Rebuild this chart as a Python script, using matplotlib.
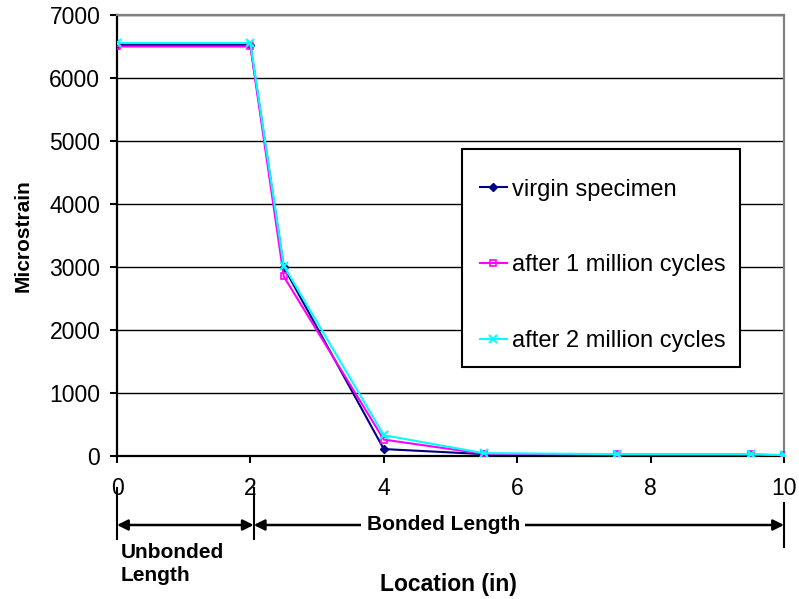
import matplotlib
matplotlib.use("Agg")
import matplotlib.pyplot as plt
import matplotlib.transforms as mtransforms
from matplotlib.patches import Rectangle

plt.rcParams['font.family'] = ['Liberation Sans', 'DejaVu Sans']

location = [0, 2, 2.5, 4, 5.5, 7.5, 9.5, 10]
virgin = [6525, 6525, 3000, 110, 30, 20, 20, 5]
after_1m = [6500, 6500, 2850, 260, 35, 25, 25, 10]
after_2m = [6555, 6555, 3020, 330, 45, 30, 30, 15]
series_labels = ["virgin specimen", "after 1 million cycles", "after 2 million cycles"]
x_ticks = [0, 2, 4, 6, 8, 10]
y_ticks = [0, 1000, 2000, 3000, 4000, 5000, 6000, 7000]

fig = plt.figure(figsize=(7.99, 5.99), dpi=100)
ax = fig.add_axes([117/799, 1-456/599, (784-117)/799, (456-15)/599])

ax.plot(location, virgin, color='#000080', lw=1.5, marker='D', ms=4,
        mfc='#000080', mec='#000080', label=series_labels[0], zorder=3)
ax.plot(location, after_1m, color='#FF00FF', lw=1.5, marker='s', ms=4,
        mfc='none', mec='#FF00FF', mew=1.2, label=series_labels[1], zorder=3)
ax.plot(location, after_2m, color='#00FFFF', lw=1.5, marker='x', ms=6,
        mec='#00FFFF', mew=1.5, label=series_labels[2], zorder=3)

ax.set_xlim(0, 10)
ax.set_ylim(0, 7000)
ax.set_xticks(x_ticks)
ax.set_yticks(y_ticks)
ax.yaxis.grid(True, color='black', lw=1.0, zorder=1)
ax.set_axisbelow(True)

for s in ['left', 'bottom']:
    ax.spines[s].set_color('black')
    ax.spines[s].set_linewidth(1.6)
for s in ['top', 'right']:
    ax.spines[s].set_color('#808080')
    ax.spines[s].set_linewidth(1.6)

ax.tick_params(axis='both', direction='out', length=5, width=1.5, labelsize=16.5, colors='black')
ax.tick_params(axis='x', pad=10)
ax.tick_params(axis='y', pad=7)

ax.set_ylabel("Microstrain", fontsize=15, fontweight='bold', labelpad=12)

# legend box
box = Rectangle((0.5172, 0.2018), 0.934 - 0.5172, 0.696 - 0.2018, transform=ax.transAxes,
                facecolor='white', edgecolor='black', lw=1.5, zorder=4.5, clip_on=False)
ax.add_patch(box)

leg = ax.legend(loc='upper left', bbox_to_anchor=(0.544, 0.629), fontsize=17,
                frameon=False, labelspacing=2.27, handlelength=1.15,
                handletextpad=0.22, borderpad=0.0, borderaxespad=0)
leg.set_zorder(5)

trans = mtransforms.blended_transform_factory(ax.transData, ax.transAxes)

def frac(py):
    return (456 - py) / 441.0

# vertical guide lines
ax.plot([0, 0], [frac(488), frac(539)], transform=trans, color='black', lw=1.5, clip_on=False)
ax.plot([2.05, 2.05], [frac(488), frac(539)], transform=trans, color='black', lw=1.5, clip_on=False)
ax.plot([10, 10], [frac(503), frac(547)], transform=trans, color='black', lw=1.5, clip_on=False)

arrow_y = frac(525)
ax.annotate("", xy=(0, arrow_y), xytext=(2.05, arrow_y), xycoords=trans, textcoords=trans,
            arrowprops=dict(arrowstyle='<|-|>', color='black', lw=1.8, mutation_scale=16,
                            shrinkA=0, shrinkB=0), annotation_clip=False)
ax.annotate("", xy=(2.05, arrow_y), xytext=(10, arrow_y), xycoords=trans, textcoords=trans,
            arrowprops=dict(arrowstyle='<|-|>', color='black', lw=1.8, mutation_scale=16,
                            shrinkA=0, shrinkB=0), annotation_clip=False)
ax.text(4.89, arrow_y, "Bonded Length", transform=trans, ha='center', va='center',
        fontsize=15, fontweight='bold',
        bbox=dict(boxstyle='square,pad=0.25', fc='white', ec='none'), clip_on=False)

ax.text(0.06, frac(564), "Unbonded\nLength", transform=trans, ha='left', va='center',
        fontsize=15, fontweight='bold', linespacing=1.25, clip_on=False)

ax.text((448-117)/667.0, frac(584), "Location (in)", transform=ax.transAxes,
        ha='center', va='center', fontsize=16.5, fontweight='bold', clip_on=False)

fig.savefig("out.png", dpi=100)
